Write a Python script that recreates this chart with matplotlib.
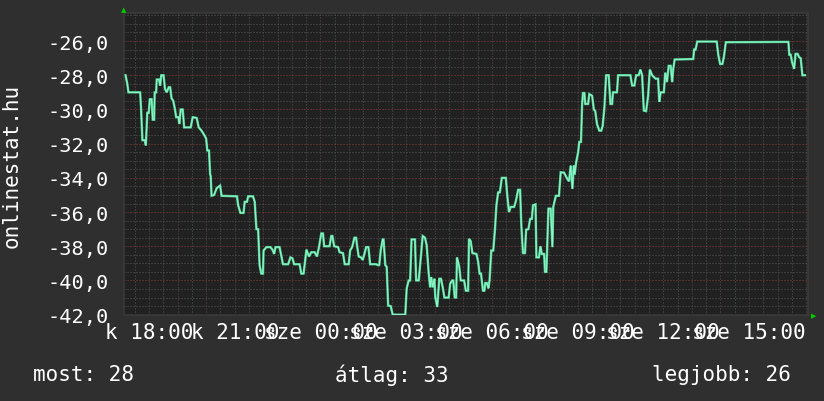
import matplotlib
matplotlib.use("Agg")
import matplotlib.pyplot as plt
from matplotlib.ticker import MultipleLocator, FixedLocator

# ---- data (hours since 00:00 of day 1; day 2 continues past 24) ----
times = [17.18, 17.24, 17.28, 17.69, 17.72, 17.77, 17.86, 17.89, 17.94, 17.99,
         18.03, 18.09, 18.13, 18.18, 18.20, 18.25, 18.27, 18.35, 18.39, 18.43,
         18.51, 18.56, 18.62, 18.69, 18.74, 18.79, 18.85, 18.91, 18.95, 19.03,
         19.06, 19.11, 19.18, 19.23, 19.46, 19.53, 19.67, 19.74, 19.82, 19.90,
         20.00, 20.04, 20.10, 20.14, 20.16, 20.19, 20.28, 20.37, 20.49, 20.54,
         21.08, 21.12, 21.20, 21.31, 21.35, 21.43, 21.47, 21.64, 21.70, 21.76,
         21.82, 21.87, 21.93, 21.99, 22.01, 22.11, 22.25, 22.32, 22.38, 22.43,
         22.57, 22.63, 22.69, 22.87, 22.95, 23.02, 23.08, 23.27, 23.33, 23.41,
         23.51, 23.60, 23.68, 23.80, 23.88, 23.95, 24.03, 24.09, 24.13, 24.32,
         24.38, 24.42, 24.48, 24.62, 24.67, 24.79, 24.85, 24.99, 25.04, 25.11,
         25.19, 25.25, 25.28, 25.34, 25.42, 25.48, 25.54, 25.60, 25.68, 25.74,
         25.95, 26.00, 26.06, 26.11, 26.18, 26.21, 26.27, 26.32, 26.37, 26.46,
         26.53, 26.97, 27.02, 27.09, 27.14, 27.19, 27.31, 27.35, 27.44, 27.49,
         27.58, 27.66, 27.72, 27.79, 27.84, 27.88, 27.93, 27.99, 28.02, 28.09,
         28.16, 28.22, 28.28, 28.34, 28.49, 28.54, 28.61, 28.65, 28.70, 28.75,
         28.78, 28.86, 28.91, 29.03, 29.09, 29.17, 29.20, 29.26, 29.32, 29.46,
         29.52, 29.57, 29.62, 29.69, 29.74, 29.77, 29.83, 29.88, 29.92, 29.98,
         30.05, 30.11, 30.16, 30.22, 30.28, 30.35, 30.49, 30.54, 30.60, 30.66,
         30.78, 30.84, 30.92, 30.99, 31.03, 31.09, 31.16, 31.20, 31.28, 31.34,
         31.40, 31.44, 31.53, 31.56, 31.65, 31.70, 31.75, 31.83, 31.86, 31.91,
         31.94, 31.98, 32.06, 32.12, 32.15, 32.24, 32.35, 32.41, 32.53, 32.64,
         32.70, 32.76, 32.82, 32.87, 32.90, 32.95, 33.02, 33.06, 33.12, 33.16,
         33.19, 33.24, 33.27, 33.37, 33.41, 33.51, 33.57, 33.62, 33.68, 33.76,
         33.83, 33.88, 33.94, 34.00, 34.09, 34.15, 34.21, 34.24, 34.38, 34.42,
         34.85, 34.91, 34.99, 35.05, 35.14, 35.20, 35.26, 35.32, 35.40, 35.47,
         35.53, 35.61, 35.73, 35.82, 35.86, 35.91, 36.02, 36.07, 36.13, 36.19,
         36.26, 36.31, 36.35, 36.40, 37.05, 37.08, 37.13, 37.19, 37.87, 37.93,
         37.99, 38.07, 38.12, 38.19, 40.38, 40.41, 40.46, 40.51, 40.58, 40.63,
         40.70, 40.76, 40.81, 40.87, 40.96]
values = [-28.0, -28.5, -29.0, -29.0, -29.9, -31.8, -31.8, -32.1, -30.2, -30.2,
          -29.4, -29.4, -30.6, -30.6, -29.0, -29.0, -28.25, -28.25, -28.6, -28.0,
          -28.0, -28.8, -29.0, -28.7, -28.7, -29.35, -29.5, -30.0, -30.45, -30.45,
          -30.85, -30.0, -30.0, -31.05, -31.05, -30.45, -30.5, -31.05, -31.2, -31.4,
          -31.7, -32.4, -32.4, -33.8, -33.9, -35.05, -35.0, -34.6, -34.45, -35.05,
          -35.08, -35.6, -36.05, -36.05, -35.4, -35.4, -35.08, -35.08, -35.4, -37.0,
          -37.0, -39.1, -39.6, -39.6, -38.25, -38.05, -38.05, -38.2, -38.45, -38.05,
          -38.05, -38.55, -39.05, -39.05, -38.65, -38.7, -39.05, -39.05, -39.6, -39.6,
          -38.2, -38.6, -38.35, -38.35, -38.6, -38.05, -37.25, -37.25, -38.0, -38.0,
          -37.4, -37.4, -38.0, -38.05, -38.35, -38.4, -39.05, -39.05, -38.25, -38.05,
          -37.5, -37.5, -37.95, -38.6, -38.65, -38.8, -38.45, -38.05, -38.05, -39.05,
          -39.05, -39.1, -39.1, -38.25, -37.6, -37.6, -39.1, -39.2, -41.47, -41.5,
          -42.0, -42.0, -40.46, -40.0, -40.0, -37.6, -37.6, -40.0, -40.0, -39.1,
          -37.4, -37.5, -37.95, -39.6, -40.4, -39.8, -40.4, -39.9, -40.98, -41.55,
          -39.9, -39.9, -40.4, -41.0, -41.0, -40.2, -40.0, -40.0, -41.0, -41.0,
          -38.65, -39.2, -40.0, -40.0, -40.6, -40.6, -37.57, -37.7, -38.4, -38.45,
          -38.9, -39.6, -39.6, -40.6, -40.6, -40.15, -40.15, -40.46, -40.0, -38.25,
          -38.25, -37.0, -35.6, -34.85, -34.85, -34.0, -34.0, -35.05, -36.0, -35.7,
          -35.7, -35.37, -34.7, -34.7, -36.7, -38.4, -38.4, -37.03, -37.0, -36.4,
          -36.4, -35.6, -35.55, -38.65, -38.65, -38.0, -38.45, -38.45, -39.5, -39.5,
          -37.87, -35.8, -35.8, -38.05, -35.7, -35.05, -35.05, -33.67, -33.7, -34.06,
          -34.2, -33.28, -34.65, -33.28, -33.8, -33.1, -32.5, -31.9, -31.9, -29.68,
          -29.04, -29.04, -29.68, -29.68, -29.1, -29.2, -30.0, -30.1, -30.85, -31.24,
          -31.24, -30.95, -29.87, -28.0, -28.0, -29.68, -29.68, -29.0, -29.0, -28.0,
          -28.0, -28.6, -28.6, -28.0, -28.0, -27.67, -28.0, -30.07, -30.1, -29.2,
          -27.67, -28.0, -28.2, -28.2, -29.56, -29.0, -29.0, -27.85, -28.4, -27.45,
          -27.45, -28.4, -27.63, -27.08, -27.05, -26.5, -26.5, -26.03, -26.03, -26.85,
          -27.34, -27.34, -26.95, -26.07, -26.05, -26.8, -26.8, -27.24, -27.63, -26.75,
          -26.75, -26.95, -27.0, -28.0, -28.0]

label_hours = [18, 21, 24, 27, 30, 33, 36, 39]
x_labels = ["k 18:00", "k 21:00", "sze 00:00", "sze 03:00",
            "sze 06:00", "sze 09:00", "sze 12:00", "sze 15:00"]
y_ticks = [-42, -40, -38, -36, -34, -32, -30, -28, -26]
y_labels = ["-42,0", "-40,0", "-38,0", "-36,0", "-34,0", "-32,0", "-30,0", "-28,0", "-26,0"]
y_title = "onlinestat.hu"
summary = ["most: 28", "átlag: 33", "legjobb: 26"]

# ---- styling ----
BG = "#2f2f2f"
PLOT_BG = "#212121"
FONT = "DejaVu Sans Mono"
FS = 15.0
FS_Y = 14.6
plt.rcParams["font.family"] = FONT

W, H = 824, 402
fig = plt.figure(figsize=(W / 100, H / 100), dpi=100, facecolor=BG)
L, R, T, B = 124, 808, 14, 316
ax = fig.add_axes([L / W, 1 - B / H, (R - L) / W, (B - T) / H])
ax.set_facecolor(PLOT_BG)

ax.set_xlim(17.125, 41.066)
ax.set_ylim(-42.02, -24.36)

hours = list(range(18, 42))
ax.xaxis.set_major_locator(FixedLocator(hours))
ax.set_xticklabels([x_labels[label_hours.index(h)] if h in label_hours else "" for h in hours])
ax.xaxis.set_minor_locator(MultipleLocator(0.5))
ax.set_yticks(y_ticks)
ax.set_yticklabels(y_labels)
ax.yaxis.set_minor_locator(MultipleLocator(0.5))

ax.tick_params(which="both", length=0, colors="white")
ax.tick_params(axis="x", pad=5, labelsize=FS)
ax.tick_params(axis="y", pad=11, labelsize=FS_Y)

ax.set_axisbelow(True)
ax.grid(which="minor", color="#575757", linewidth=0.72, linestyle=(0, (1, 2)))
ax.grid(which="major", axis="y", color="#8a3b3b", linewidth=0.72, linestyle=(0, (1, 2)))
ax.grid(which="major", axis="x", color="#604848", linewidth=0.72, linestyle=(0, (1, 2)))

for s in ax.spines.values():
    s.set_color("#3a3a3a")
    s.set_linewidth(1.2)

ax.plot(times, values, color="#4fcf94", linewidth=1.7, solid_joinstyle="miter", zorder=3)
ax.plot(times, values, color="#90f5c8", linewidth=0.8, solid_joinstyle="miter", zorder=4)

# axis arrows
fig.text(124 / W, 1 - 10 / H, "▲", color="#00cc00", fontsize=5, ha="center", va="center",
         family="DejaVu Sans")
fig.text(814 / W, 1 - 316 / H, "▶", color="#00cc00", fontsize=5, ha="center", va="center",
         family="DejaVu Sans")

fig.text(12 / W, 1 - 166 / H, y_title, rotation=90, color="white", fontsize=FS,
         ha="center", va="center")
fig.text(33 / W, 1 - 375 / H, summary[0], color="white", fontsize=FS, ha="left", va="center")
fig.text(392 / W, 1 - 375 / H, summary[1], color="white", fontsize=FS, ha="center", va="center")
fig.text(791 / W, 1 - 375 / H, summary[2], color="white", fontsize=FS, ha="right", va="center")

fig.savefig("out.png", dpi=100, facecolor=BG)
